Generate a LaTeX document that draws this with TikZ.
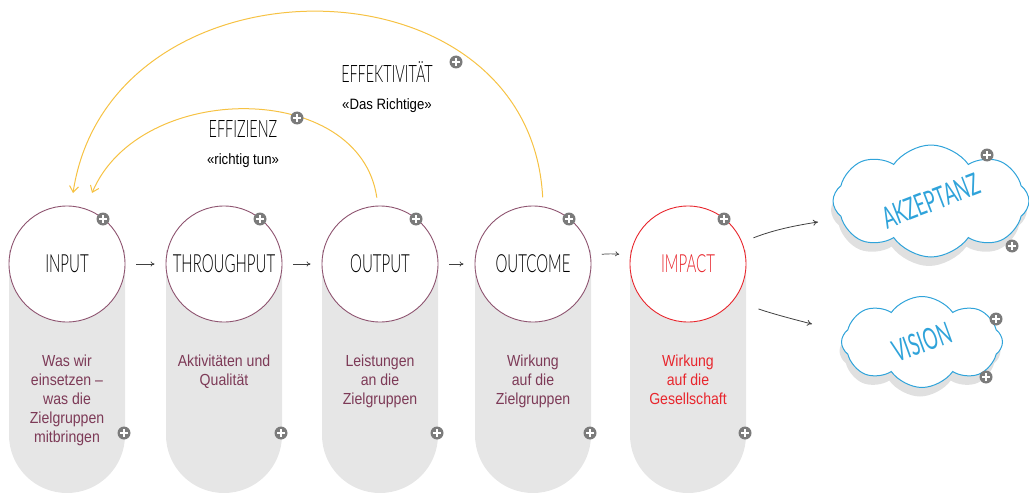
\documentclass[tikz,border=0pt]{standalone}
\usepackage{fontspec}
\usepackage{tikz}
\usetikzlibrary{arrows.meta, positioning, shapes.symbols, shadows}

\IfFontExistsTF{Lato Light}
	{\newfontfamily\titlefont[FakeStretch=0.6]{Lato Light}}
	{\IfFontExistsTF{DejaVu Sans ExtraLight}
		{\newfontfamily\titlefont[FakeStretch=0.56]{DejaVu Sans ExtraLight}}
		{\newfontfamily\titlefont[FakeStretch=0.58]{Liberation Sans}}}
\newfontfamily\cloudfont[FakeStretch=0.6]{Lato}
\newfontfamily\bodyfont[FakeStretch=0.88]{Liberation Sans}

\definecolor{wine}{HTML}{7D3A57}
\definecolor{ring}{HTML}{8E5470}
\definecolor{impactred}{HTML}{E8262D}
\definecolor{sky}{HTML}{2FA3DA}
\definecolor{sun}{HTML}{F6C243}
\definecolor{pillgray}{HTML}{E6E6E6}
\definecolor{plusgray}{HTML}{7B7B7B}

\tikzset{
	stage/.style={circle, draw=ring, line width=0.9pt, fill=white, minimum size=116pt, inner sep=0pt, font=\titlefont\fontsize{25}{25}\selectfont},
	body/.style={align=center, inner sep=0pt, text=wine, font=\bodyfont\fontsize{16}{19}\selectfont},
	heading/.style={inner sep=0pt, font=\titlefont\fontsize{24}{24}\selectfont},
	quote/.style={inner sep=0pt, font=\bodyfont\fontsize{15}{15}\selectfont},
	cloudtext/.style={inner sep=0pt, text=sky, font=\cloudfont\fontsize{30}{30}\selectfont},
	plus/.style={circle, fill=plusgray, minimum size=13pt, inner sep=0pt,
		path picture={\draw[white, line width=1.5pt]
			([xshift=-3.6pt]path picture bounding box.center) -- ([xshift=3.6pt]path picture bounding box.center)
			([yshift=-3.6pt]path picture bounding box.center) -- ([yshift=3.6pt]path picture bounding box.center);}},
	flow/.style={-{To[length=4pt, width=5pt]}, line width=0.7pt, draw=black!75, shorten <=11pt, shorten >=11pt},
	pointer/.style={-{To[length=5pt, width=6pt]}, line width=0.8pt, draw=black!75},
	loop/.style={draw=sun, line width=1pt, -{Straight Barb[length=6pt, width=9pt]}},
	wolke/.style={cloud, cloud puffs=8, cloud puff arc=110, aspect=1.8, draw=sky, line width=1pt, fill=white, inner sep=0pt,
		drop shadow={shadow xshift=-2pt, shadow yshift=-9pt, fill=black!12, opacity=1}}
}

\begin{document}
\begin{tikzpicture}[x=1pt, y=-1pt]
	\useasboundingbox (0,0) rectangle (1029,495);

	% grey columns behind the stages
	\foreach \x in {67,224,380,533,688}
		\fill[pillgray] (\x-58,250) [rounded corners=58pt] -- (\x-58,493) -- (\x+58,493) [sharp corners] -- (\x+58,250) -- cycle;

	\node[stage, label={[body, label distance=32pt]below:Was wir\\einsetzen –\\was die\\Zielgruppen\\mitbringen}] (input) at (67,264) {INPUT};
	\node[stage, label={[body, label distance=32pt]below:Aktivitäten und\\Qualität}] (through) at (224,264) {THROUGHPUT};
	\node[stage, label={[body, label distance=32pt]below:Leistungen\\an die\\Zielgruppen}] (output) at (380,264) {OUTPUT};
	\node[stage, label={[body, label distance=32pt]below:Wirkung\\auf die\\Zielgruppen}] (outcome) at (533,264) {OUTCOME};
	\node[stage, draw=impactred, text=impactred, label={[body, text=impactred, label distance=32pt]below:Wirkung\\auf die\\Gesellschaft}] (impact) at (688,264) {IMPACT};

	\draw[flow] (input) -- (through);
	\draw[flow] (through) -- (output);
	\draw[flow] (output) -- (outcome);
	\draw[flow] (outcome) to[bend left=8] (impact);

	% feedback arcs
	\coordinate (effi-tip) at (92,193);
	\coordinate (effe-tip) at (73,193);
	\draw[loop, shorten <=8pt] (output.92) .. controls (360,80) and (140,80) .. (effi-tip);
	\draw[loop, shorten <=9pt] (outcome.80) .. controls (530,-50) and (110,-50) .. (effe-tip);

	\node[heading, label={[quote, label distance=16pt]below:«richtig tun»}] (effizienz) at (243,129) {EFFIZIENZ};
	\node[heading, label={[quote, label distance=16pt]below:«Das Richtige»}] (effektivitaet) at (387,72) {EFFEKTIVITÄT};

	% clouds
	\node[wolke, minimum width=196pt, minimum height=112pt, label={[cloudtext, rotate=21]center:AKZEPTANZ}] (akzeptanz) at (931,201) {};
	\node[wolke, minimum width=161pt, minimum height=91pt, label={[cloudtext, rotate=20]center:VISION}] (vision) at (922,342) {};

	\coordinate (akz-tip) at (818,222);
	\coordinate (vis-tip) at (812,324);
	\draw[pointer, shorten <=12pt] (impact.22) to[bend left=6] (akz-tip);
	\draw[pointer, shorten <=26pt] (impact.-38) to[bend right=3] (vis-tip);

	% plus buttons
	\foreach \x [count=\i] in {67,224,380,533,688} {
		\node[plus] (ptop\i) at (\x+36,219) {};
		\node[plus] (pbot\i) at (\x+57,433) {};
	}
	\node[plus] (parc1) at (297,118) {};
	\node[plus] (parc2) at (456,62) {};
	\node[plus] (pakz1) at (987,155) {};
	\node[plus] (pakz2) at (1012,246) {};
	\node[plus] (pvis1) at (996,319) {};
	\node[plus] (pvis2) at (986,377) {};
\end{tikzpicture}
\end{document}
